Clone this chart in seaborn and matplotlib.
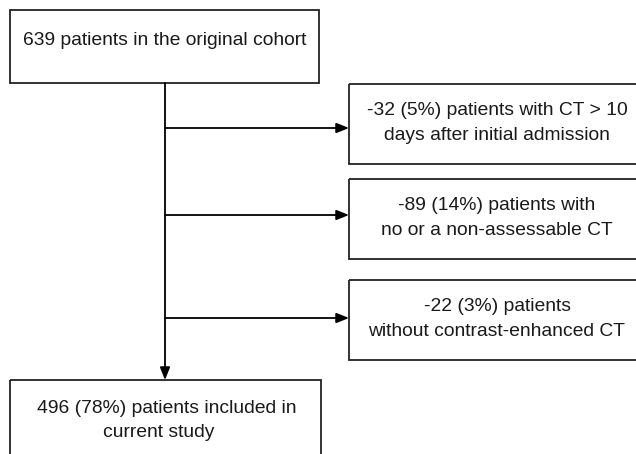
import matplotlib
matplotlib.use("Agg")
import matplotlib.pyplot as plt
import seaborn as sns
from matplotlib.patches import Rectangle

# data
start_n = 639
excl_n = [32, 89, 22]
excl_pct = [5, 14, 3]
excl_text = [
    ["-{} ({}%) patients with CT > 10", "days after initial admission"],
    ["-{} ({}%) patients with", "no or a non-assessable CT"],
    ["-{} ({}%) patients", "without contrast-enhanced CT"],
]
final_n = 496
final_pct = 78

sns.set_style("white")
plt.rcParams["font.family"] = ["Liberation Sans", "DejaVu Sans"]

# layout (pixels)
W, H = 636, 454
spine_x = 165
side_left, side_right = 349, 646
side_tops = [84, 179, 280]
side_h = 80
arrow_y = [128, 215, 318]
dy = 2.5  # text nudge

fig = plt.figure(figsize=(W / 100, H / 100), dpi=100)
ax = fig.add_axes([0, 0, 1, 1])
ax.set_xlim(0, W)
ax.set_ylim(H, 0)
ax.axis("off")

ec = "#222222"
tc = "#1a1a1a"
fs = 13.9
arrow = dict(arrowstyle="-|>,head_length=0.75,head_width=0.3",
             color="black", lw=1.3, shrinkA=0, shrinkB=0)

# top box
ax.add_patch(Rectangle((10, 10), 309, 73, fill=False, ec=ec, lw=1.3))
ax.text(165, 38 + dy, f"{start_n} patients in the original cohort",
        ha="center", va="center", fontsize=fs, color=tc)

# main vertical line with arrow into final box
ax.annotate("", xy=(spine_x, 380), xytext=(spine_x, 83), arrowprops=arrow)

# exclusion boxes
for i in range(3):
    top = side_tops[i]
    ax.add_patch(Rectangle((side_left, top), side_right - side_left, side_h,
                           fill=False, ec=ec, lw=1.3))
    ax.annotate("", xy=(side_left, arrow_y[i]), xytext=(spine_x, arrow_y[i]),
                arrowprops=arrow)
    line1 = excl_text[i][0].format(excl_n[i], excl_pct[i])
    line2 = excl_text[i][1]
    ax.text(497, top + 24 + dy, line1, ha="center", va="center", fontsize=fs, color=tc)
    ax.text(497, top + 49 + dy, line2, ha="center", va="center", fontsize=fs, color=tc)

# final box
ax.add_patch(Rectangle((10, 380), 311, 100, fill=False, ec=ec, lw=1.3))
ax.text(167, 406 + dy, f"{final_n} ({final_pct}%) patients included in",
        ha="center", va="center", fontsize=fs, color=tc)
ax.text(159, 430 + dy, "current study", ha="center", va="center", fontsize=fs, color=tc)

fig.savefig("out.png", dpi=100)
